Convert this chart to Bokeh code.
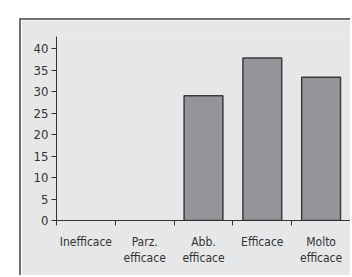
from bokeh.plotting import figure
from bokeh.models import FixedTicker, Range1d, ColumnDataSource
from bokeh.embed import file_html
from bokeh.resources import INLINE

categories = ["Inefficace", "Parz.\nefficace", "Abb.\nefficace", "Efficace", "Molto\nefficace"]
values = [0, 0, 29, 37.8, 33.3]
y_ticks = [0, 5, 10, 15, 20, 25, 30, 35, 40]

FONT = "DejaVu Sans Condensed"
BG = "#e6e7e9"

centers = [i + 0.5 for i in range(len(categories))]
bounds = list(range(len(categories) + 1))

p = figure(width=331, height=257, output_backend="svg", toolbar_location=None,
           x_range=Range1d(0, len(categories)), y_range=Range1d(0, 42.8),
           min_border_left=35, min_border_right=2, min_border_top=16, min_border_bottom=57)
p.styles = {"margin-left": "19px", "margin-top": "18px",
            "border-top": "2px solid #707070", "border-left": "2px solid #707070"}
p.border_fill_color = BG
p.background_fill_color = BG
p.outline_line_color = None
p.grid.grid_line_color = None

src = ColumnDataSource(dict(x=centers, top=values,
                            la=[1 if v > 0 else 0 for v in values]))
p.vbar(x="x", top="top", width=0.66, source=src, fill_color="#939598",
       line_color="#3c3c3c", line_width=1.5, line_alpha="la")

xa = p.xaxis[0]
xa.ticker = FixedTicker(ticks=centers, minor_ticks=bounds)
xa.major_label_overrides = {c: lab for c, lab in zip(centers, categories)}
xa.major_tick_line_color = None
xa.major_tick_out = 0
xa.major_tick_in = 0
xa.minor_tick_out = 5
xa.minor_tick_in = 0
xa.minor_tick_line_color = "#333333"
xa.axis_line_color = "#333333"
xa.major_label_standoff = 9
xa.major_label_text_font = FONT
xa.major_label_text_font_size = "12px"
xa.major_label_text_color = "#333333"

ya = p.yaxis[0]
ya.ticker = FixedTicker(ticks=y_ticks)
ya.minor_tick_line_color = None
ya.major_tick_out = 5
ya.major_tick_in = 0
ya.major_tick_line_color = "#333333"
ya.axis_line_color = "#333333"
ya.major_label_standoff = 3
ya.major_label_text_font = FONT
ya.major_label_text_font_size = "13px"
ya.major_label_text_color = "#333333"

open("out.html", "w").write(file_html(p, INLINE))
